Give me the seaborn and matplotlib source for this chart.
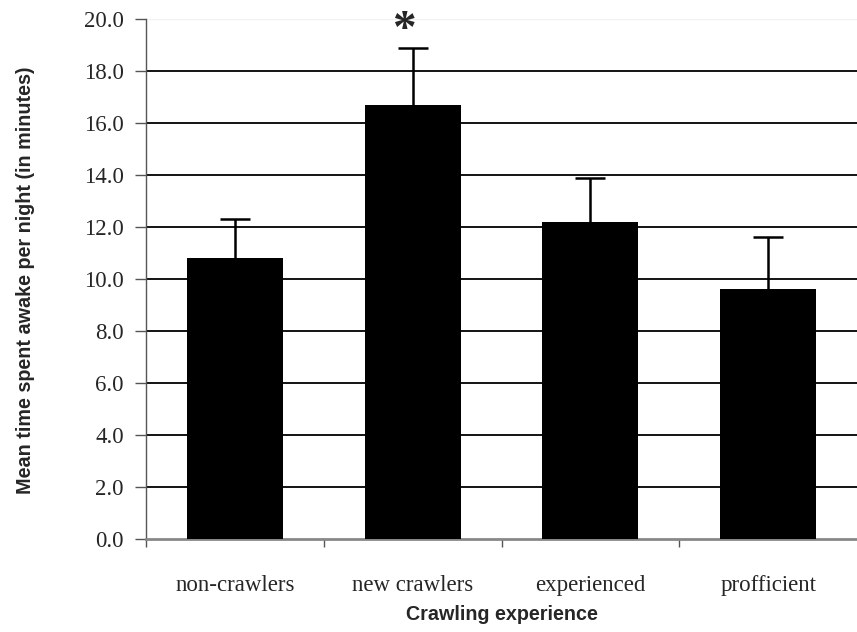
import matplotlib
matplotlib.use("Agg")
import matplotlib.pyplot as plt
import seaborn as sns
import pandas as pd

categories = ["non-crawlers", "new crawlers", "experienced", "profficient"]
means = [10.8, 16.7, 12.2, 9.6]
errors = [1.5, 2.2, 1.7, 2.0]


def main():
    sns.set_theme(style="white")
    plt.rcParams['font.family'] = ['Liberation Serif', 'DejaVu Serif']
    sans = ["Liberation Sans", "DejaVu Sans"]

    df = pd.DataFrame({"group": categories, "mean": means})

    fig = plt.figure(figsize=(8.57, 6.32), dpi=100)
    ax = fig.add_axes([0.1704, 0.1472, 0.8296, 0.8227])

    sns.barplot(x="group", y="mean", data=df, color="black", width=0.54,
                errorbar=None, saturation=1, linewidth=0, ax=ax, zorder=3)
    xs = ax.get_xticks()
    eb = ax.errorbar(xs, means, yerr=[[0] * len(errors), errors], fmt="none",
                     ecolor="black", elinewidth=1.8, capsize=11, capthick=1.8, zorder=2)
    # only the upper cap is drawn in the original
    eb[1][0].set_visible(False)

    ax.set_xlim(-0.5, 3.5)
    ax.set_ylim(0, 20)
    ax.set_yticks([i * 2.0 for i in range(11)])
    ax.set_yticklabels(["%.1f" % (i * 2.0) for i in range(11)])
    for y in range(2, 20, 2):
        ax.axhline(y, color="black", lw=1.3, zorder=1)
    ax.axhline(20, color="#f2f2f2", lw=1.0, zorder=1)

    for s in ["top", "right"]:
        ax.spines[s].set_visible(False)
    ax.spines["left"].set_color("#555555")
    ax.spines["left"].set_linewidth(1.0)
    ax.spines["bottom"].set_color("#888888")
    ax.spines["bottom"].set_linewidth(2.0)

    ax.set_xticks([-0.5, 0.5, 1.5, 2.5], minor=True)
    ax.tick_params(axis="x", which="minor", bottom=True, direction="out",
                   length=6, width=1, color="#555555")
    ax.tick_params(axis="y", left=True, direction="out", length=8, width=1,
                   color="#555555", labelsize=16.5, pad=8)
    ax.tick_params(axis="x", which="major", bottom=False, labelsize=16.5, pad=20)

    ax.set_xlabel("")
    ax.set_ylabel("")
    fig.text(501.5 / 857, 1 - 614 / 632, "Crawling experience", fontsize=14.2,
             fontweight="bold", family=sans, ha="center", va="center")
    fig.text(26 / 857, 1 - 280 / 632, "Mean time spent awake per night (in minutes)",
             fontsize=14.2, fontweight="bold", family=sans, rotation=90,
             ha="center", va="center")

    ax.text(xs[1] - 0.05, 19.55, "*", ha="center", va="center", fontsize=34,
            fontweight="bold", clip_on=False)

    plt.savefig("out.png", dpi=100)
    plt.close()


if __name__ == "__main__":
    main()
